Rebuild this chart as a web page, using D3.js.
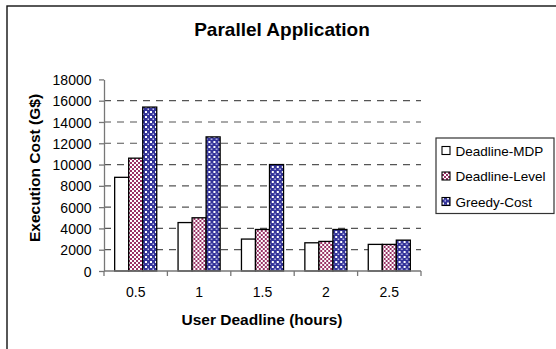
<!DOCTYPE html>
<html>
<head>
<meta charset="utf-8">
<script src="https://cdn.jsdelivr.net/npm/d3@7"></script>
<style>
  html, body { margin: 0; padding: 0; background: #fff; }
  svg { display: block; font-family: "Liberation Sans", Arial, sans-serif; }
</style>
</head>
<body>
<div id="chart"></div>
<script>
// Execution cost of a parallel application under different user deadlines
const deadlines = ["0.5", "1", "1.5", "2", "2.5"];
const seriesNames = ["Deadline-MDP", "Deadline-Level", "Greedy-Cost"];
const deadlineMDP   = [8800, 4550, 3000, 2650, 2500];
const deadlineLevel = [10600, 5000, 3900, 2780, 2500];
const greedyCost    = [15400, 12600, 10000, 3900, 2900];
const yTicks = [0, 2000, 4000, 6000, 8000, 10000, 12000, 14000, 16000, 18000];

const seriesValues = [deadlineMDP, deadlineLevel, greedyCost];

const W = 556, H = 349;
const svg = d3.select("#chart").append("svg")
  .attr("width", W).attr("height", H);

// fill patterns for the three series
const defs = svg.append("defs");
const pink = defs.append("pattern").attr("id", "pat-level")
  .attr("patternUnits", "userSpaceOnUse").attr("width", 4).attr("height", 4);
pink.append("rect").attr("width", 4).attr("height", 4).attr("fill", "#fff");
pink.append("rect").attr("x", 0).attr("y", 0).attr("width", 2).attr("height", 2).attr("fill", "#993366");
pink.append("rect").attr("x", 2).attr("y", 2).attr("width", 2).attr("height", 2).attr("fill", "#993366");

const blue = defs.append("pattern").attr("id", "pat-greedy")
  .attr("patternUnits", "userSpaceOnUse").attr("width", 5).attr("height", 5);
blue.append("rect").attr("width", 5).attr("height", 5).attr("fill", "#333399");
blue.append("rect").attr("x", 1).attr("y", 1).attr("width", 2).attr("height", 2).attr("fill", "#fff");
blue.append("rect").attr("x", 3.5).attr("y", 3.5).attr("width", 1.5).attr("height", 1.5).attr("fill", "#c8c8f0");

const fills = ["#ffffff", "url(#pat-level)", "url(#pat-greedy)"];

// outer frame
svg.append("rect")
  .attr("x", 7).attr("y", 6).attr("width", 600).attr("height", 400)
  .attr("fill", "none").attr("stroke", "#111").attr("stroke-width", 1.4);

// plot area
const plotLeft = 104, plotRight = 421, plotTop = 79.4, plotBottom = 271;

const x0 = d3.scaleBand().domain(deadlines).range([plotLeft, plotRight]).padding(0);
const x1 = d3.scaleBand().domain(seriesNames).range([0, x0.bandwidth()])
  .paddingInner(0).paddingOuter(0.76);
const y = d3.scaleLinear().domain([0, 18000]).range([plotBottom, plotTop]);

// dashed gridlines
svg.append("g").selectAll("line")
  .data(yTicks.filter(v => v > 0 && v < 18000))
  .join("line")
  .attr("x1", plotLeft).attr("x2", plotRight)
  .attr("y1", d => y(d)).attr("y2", d => y(d))
  .attr("stroke", "#555").attr("stroke-width", 1.2)
  .attr("stroke-dasharray", "7,6");

// bars
const groups = svg.append("g").selectAll("g")
  .data(deadlines)
  .join("g")
  .attr("transform", d => `translate(${x0(d)},0)`);

groups.selectAll("rect")
  .data((d, i) => seriesNames.map((s, k) => ({ s, k, v: seriesValues[k][i] })))
  .join("rect")
  .attr("x", d => x1(d.s))
  .attr("y", d => y(d.v))
  .attr("width", x1.bandwidth())
  .attr("height", d => plotBottom - y(d.v))
  .attr("fill", d => fills[d.k])
  .attr("stroke", "#000").attr("stroke-width", 1.3);

// y axis
const yAxis = svg.append("g")
  .attr("transform", `translate(${plotLeft},0)`)
  .call(d3.axisLeft(y).tickValues(yTicks).tickSize(5).tickSizeOuter(0)
    .tickFormat(d3.format("d")));
yAxis.select(".domain").attr("stroke", "#777").attr("stroke-width", 1.3);
yAxis.selectAll(".tick line").attr("stroke", "#777").attr("stroke-width", 1.3);
yAxis.selectAll(".tick text")
  .attr("x", -12.5).attr("dy", "0.36em")
  .attr("font-size", 14).attr("fill", "#000")
  .style("font-family", "'Liberation Sans', Arial, sans-serif");

// x axis: baseline with ticks between categories
const xAxis = svg.append("g").attr("transform", `translate(0,${plotBottom})`);
xAxis.append("line").attr("x1", plotLeft).attr("x2", plotRight)
  .attr("stroke", "#777").attr("stroke-width", 1.3);
const boundaries = deadlines.map(d => x0(d)).concat([x0(deadlines[deadlines.length - 1]) + x0.bandwidth()]);
xAxis.selectAll("line.tk").data(boundaries).join("line").attr("class", "tk")
  .attr("x1", d => d).attr("x2", d => d).attr("y1", 0).attr("y2", 5)
  .attr("stroke", "#777").attr("stroke-width", 1.3);
xAxis.selectAll("text").data(deadlines).join("text")
  .attr("x", d => x0(d) + x0.bandwidth() / 2)
  .attr("y", 25.7)
  .attr("text-anchor", "middle").attr("font-size", 14).attr("fill", "#000")
  .text(d => d);

// titles
svg.append("text")
  .attr("x", 282).attr("y", 36)
  .attr("text-anchor", "middle").attr("font-size", 19).attr("font-weight", "bold")
  .text("Parallel Application");

svg.append("text")
  .attr("x", 262).attr("y", 325)
  .attr("text-anchor", "middle").attr("font-size", 15.5).attr("font-weight", "bold")
  .text("User Deadline (hours)");

svg.append("text")
  .attr("transform", "translate(40,168) rotate(-90)")
  .attr("text-anchor", "middle").attr("font-size", 15.5).attr("font-weight", "bold")
  .text("Execution Cost (G$)");

// legend
const legend = svg.append("g").attr("transform", "translate(436,138)");
legend.append("rect")
  .attr("width", 118).attr("height", 75.5)
  .attr("fill", "#fff").attr("stroke", "#333").attr("stroke-width", 1.2);
const items = legend.selectAll("g.item").data(seriesNames).join("g")
  .attr("class", "item")
  .attr("transform", (d, i) => `translate(0,${12.5 + i * 25.5})`);
items.append("rect")
  .attr("x", 6).attr("y", -4).attr("width", 8).attr("height", 8)
  .attr("fill", (d, i) => fills[i]).attr("stroke", "#000").attr("stroke-width", 1.1);
items.append("text")
  .attr("x", 19.5).attr("y", 5)
  .attr("font-size", 13.5).attr("fill", "#000")
  .text(d => d);
</script>
</body>
</html>
